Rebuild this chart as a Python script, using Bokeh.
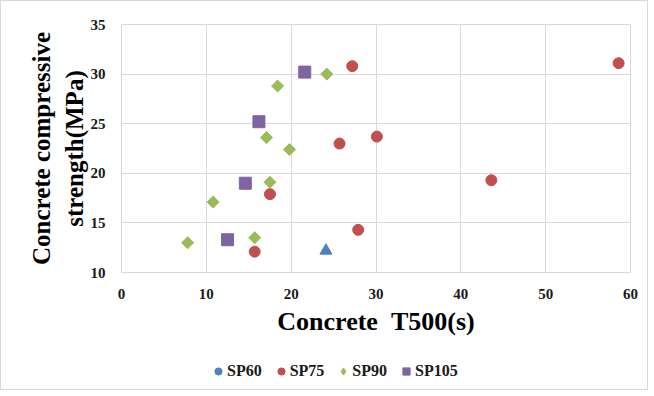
import math
from bokeh.plotting import figure
from bokeh.models import Legend, LegendItem, Range1d, FixedTicker, Column
from bokeh.embed import file_html
from bokeh.resources import INLINE

# Data
sp60_x = [24.1]
sp60_y = [12.2]
sp75_x = [15.7, 17.5, 27.2, 25.7, 30.1, 43.6, 58.6, 27.9]
sp75_y = [12.1, 17.9, 30.8, 23.0, 23.7, 19.3, 31.1, 14.3]
sp90_x = [24.2, 18.4, 17.1, 19.8, 17.5, 10.8, 7.8, 15.7]
sp90_y = [30.0, 28.8, 23.6, 22.4, 19.1, 17.1, 13.0, 13.5]
sp105_x = [21.6, 16.2, 14.6, 12.5]
sp105_y = [30.2, 25.2, 19.0, 13.3]
series_names = ["SP60", "SP75", "SP90", "SP105"]
x_ticks = [0, 10, 20, 30, 40, 50, 60]
y_ticks = [10, 15, 20, 25, 30, 35]

BLUE = "#4f81bd"
RED = "#c0504d"
GREEN = "#9bbb59"
PURPLE = "#8064a2"
FONT = "Liberation Serif"

W = 646
ML, MT, FW, FH, MB = 120, 23, 509, 248, 74
p = figure(width=W, height=MT + FH + MB, output_backend="svg", toolbar_location=None,
           x_range=Range1d(0, 60), y_range=Range1d(10, 35),
           frame_width=FW, frame_height=FH,
           min_border_left=ML, min_border_right=W - ML - FW,
           min_border_top=MT, min_border_bottom=MB)

p.outline_line_color = "#d9d9d9"
p.xgrid.grid_line_color = "#d9d9d9"
p.ygrid.grid_line_color = "#d9d9d9"
p.xaxis.ticker = FixedTicker(ticks=x_ticks)
p.yaxis.ticker = FixedTicker(ticks=y_ticks)
for ax in (p.xaxis[0], p.yaxis[0]):
    ax.axis_line_color = None
    ax.major_tick_line_color = None
    ax.minor_tick_line_color = None
    ax.major_label_text_font = FONT
    ax.major_label_text_font_style = "bold"
    ax.major_label_text_font_size = "15px"
    ax.major_label_text_color = "#1a1a1a"
    ax.axis_label_text_font = FONT
    ax.axis_label_text_font_style = "bold"
    ax.axis_label_text_color = "#000000"
p.xaxis.axis_label_text_font_size = "26px"
p.yaxis.axis_label_text_font_size = "25px"

p.xaxis.axis_label = "Concrete\u00a0\u00a0T500(s)"
p.yaxis.axis_label = "Concrete compressive\nstrength(MPa)"
p.xaxis.major_label_standoff = 10
p.yaxis.major_label_standoff = 10
p.xaxis.axis_label_standoff = 5
p.yaxis.axis_label_standoff = 0

p.scatter(sp60_x, sp60_y, marker="triangle", size=12, color=BLUE)
p.scatter(sp75_x, sp75_y, marker="circle", size=11, color=RED)
p.scatter(sp90_x, sp90_y, marker="square", angle=math.pi / 4, size=8.5, color=GREEN)
p.scatter(sp105_x, sp105_y, marker="square", size=12, color=PURPLE)

# Legend strip below the chart (its own frame is aligned with the chart frame;
# the legend proxies reuse the series data, which lies outside this strip's ranges)
LH = 43
lg = figure(width=W, height=LH, output_backend="svg", toolbar_location=None,
            x_range=Range1d(0, 1), y_range=Range1d(0, 1),
            x_axis_type=None, y_axis_type=None,
            min_border_left=0, min_border_right=0, min_border_top=0, min_border_bottom=0)
lg.outline_line_color = None
lg.xgrid.visible = False
lg.ygrid.visible = False
l60 = lg.scatter(sp60_x, sp60_y, marker="circle", color=BLUE)
l75 = lg.scatter(sp75_x, sp75_y, marker="circle", color=RED)
l90 = lg.scatter(sp90_x, sp90_y, marker="diamond", color=GREEN)
l105 = lg.scatter(sp105_x, sp105_y, marker="square", color=PURPLE)

legend = Legend(items=[
    LegendItem(label=series_names[0], renderers=[l60], index=0),
    LegendItem(label=series_names[1], renderers=[l75], index=0),
    LegendItem(label=series_names[2], renderers=[l90], index=0),
    LegendItem(label=series_names[3], renderers=[l105], index=0),
], orientation="horizontal", location=(88, 8),
    label_text_font=FONT, label_text_font_style="bold", label_text_font_size="16px",
    label_text_color="#1a1a1a",
    glyph_width=18, glyph_height=20, label_standoff=0, spacing=10,
    border_line_color=None, background_fill_alpha=0, margin=0, padding=0)
lg.add_layout(legend, "center")

layout = Column(p, lg, spacing=0)
layout.styles = {"border": "1px solid #d9d9d9"}

open("out.html", "w").write(file_html(layout, INLINE))
